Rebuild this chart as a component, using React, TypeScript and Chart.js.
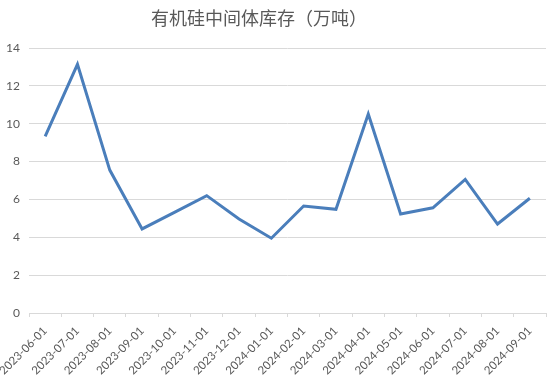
import React, { useEffect, useRef } from "react";
import { Chart, registerables } from "chart.js";

Chart.register(...registerables);

const TITLE = "有机硅中间体库存（万吨）";
const categories = [
  "2023-06-01", "2023-07-01", "2023-08-01", "2023-09-01", "2023-10-01", "2023-11-01",
  "2023-12-01", "2024-01-01", "2024-02-01", "2024-03-01", "2024-04-01", "2024-05-01",
  "2024-06-01", "2024-07-01", "2024-08-01", "2024-09-01",
];
const inventory = [9.33, 13.14, 7.55, 4.44, 5.32, 6.2, 4.97, 3.95, 5.65, 5.48, 10.51, 5.23, 5.56, 7.06, 4.7, 6.06];
const yTicks = [0, 2, 4, 6, 8, 10, 12, 14];

const titlePlugin = {
  id: "customTitle",
  afterDraw(chart: any) {
    const ctx = chart.ctx;
    ctx.save();
    ctx.font = "18px 'Noto Sans CJK SC'";
    ctx.fillStyle = "#595959";
    ctx.textAlign = "center";
    ctx.textBaseline = "middle";
    ctx.fillText(TITLE, 259, 18);
    ctx.restore();
  },
};

export default function App() {
  const ref = useRef<HTMLCanvasElement>(null);
  useEffect(() => {
    document.body.style.margin = "0";
    const chart = new Chart(ref.current!, {
      type: "line",
      data: {
        labels: categories,
        datasets: [
          {
            data: inventory,
            borderColor: "#4a7ebb",
            borderWidth: 3,
            pointRadius: 0,
            tension: 0,
            fill: false,
          },
        ],
      },
      options: {
        animation: false,
        responsive: false,
        layout: { padding: { top: 48, left: 0, right: 4, bottom: 0 } },
        plugins: { legend: { display: false }, tooltip: { enabled: false }, title: { display: false } },
        scales: {
          x: {
            offset: true,
            afterFit: (scale: any) => {
              scale.height = 72;
              scale.paddingLeft = 0;
              scale.paddingRight = 0;
            },
            grid: { display: true, offset: true, drawOnChartArea: false, drawTicks: true, tickLength: 4, color: "#d9d9d9" },
            border: { display: true, color: "#d9d9d9" },
            ticks: {
              maxRotation: 45,
              minRotation: 45,
              autoSkip: false,
              color: "#595959",
              font: { family: "Lato", size: 11.5 },
              padding: 7,
            },
          },
          y: {
            min: 0,
            max: 14,
            afterBuildTicks: (axis: any) => {
              axis.ticks = yTicks.map((v) => ({ value: v }));
            },
            afterFit: (scale: any) => {
              scale.width = 29;
              scale.paddingTop = 0;
              scale.paddingBottom = 0;
            },
            grid: { color: "#d9d9d9", drawTicks: false, lineWidth: 1 },
            border: { display: false },
            ticks: { color: "#595959", font: { family: "Lato", size: 12 }, padding: 9 },
          },
        },
      },
      plugins: [titlePlugin],
    });
    return () => chart.destroy();
  }, []);
  return (
    <div style={{ width: 550, height: 385, background: "#fff" }}>
      <canvas ref={ref} width={550} height={385} />
    </div>
  );
}
